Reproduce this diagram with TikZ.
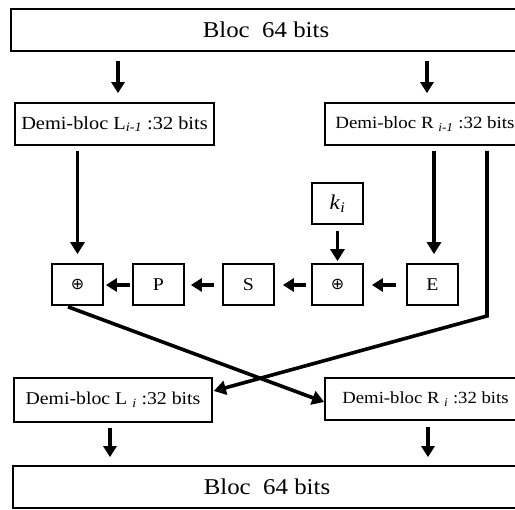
\documentclass[tikz,border=0pt]{standalone}
\usepackage{fontspec}
\setmainfont{Liberation Serif}[FakeStretch=1.1]
\newfontfamily\symfont{DejaVu Sans}
\usetikzlibrary{arrows.meta,calc}
\begin{document}
\begin{tikzpicture}[x=1pt,y=-1pt,
  boxbase/.style={draw,line width=1.7pt,inner sep=0pt,align=center},
  bigbox/.style={boxbase,minimum height=42pt,font=\fontsize{22.6}{26}\selectfont},
  halfbox/.style={boxbase,minimum height=42pt},
  smallbox/.style={boxbase,minimum width=51pt,minimum height=41pt,font=\fontsize{18}{21}\selectfont},
  xorbox/.style={smallbox,font=\symfont\fontsize{16}{18}\selectfont},
  arr/.style={line width=3.6pt,-{Triangle[width=14pt,length=12pt]}},
  sarr/.style={line width=3.2pt,-{Triangle[width=13pt,length=11pt]}}]
\useasboundingbox (0,0) rectangle (515,510);
\clip (0,0) rectangle (515,510);
\fill[white] (0,0) rectangle (515,510);
% boxes
\node[bigbox,minimum width=510pt] (top) at (266,30) {Bloc\ \ 64 bits};
\node[halfbox,minimum width=199pt,font=\fontsize{18.5}{21}\selectfont] (Lm) at (114.5,124) {Demi-bloc L\textsubscript{\textit{i-1}} :32 bits};
\node[halfbox,minimum width=200pt,font=\fontsize{17.2}{20}\selectfont] (Rm) at (425,124) {Demi-bloc R \textsubscript{\textit{i-1}} :32 bits};
\node[smallbox,font=\fontsize{21}{24}\selectfont] (k) at (337.5,203.5) {\textit{k}\textsubscript{\textit{i}}};
\node[xorbox] (X1) at (77.5,284.5) {⊕};
\node[smallbox] (P) at (158.5,284.5) {P};
\node[smallbox] (S) at (248.5,284.5) {S};
\node[xorbox] (X2) at (337.5,284.5) {⊕};
\node[smallbox] (E) at (432.5,284.5) {E};
\node[halfbox,minimum width=198pt,minimum height=44pt,font=\fontsize{18}{21}\selectfont] (L) at (113,400) {Demi-bloc L \textsubscript{\textit{i}} :32 bits};
\node[halfbox,minimum width=201pt,font=\fontsize{17}{20}\selectfont] (R) at (425.5,399) {Demi-bloc R \textsubscript{\textit{i}} :32 bits};
\node[bigbox,minimum width=508pt] (bot) at (267,487) {Bloc\ \ 64 bits};
% arrows
\draw[sarr] ($(top.south -| Lm.north)+(3.5,9)$) -- ($(Lm.north)+(3.5,-9)$);
\draw[sarr] ($(top.south -| Rm.north)+(2,9)$) -- ($(Rm.north)+(2,-9)$);
\draw[arr] ($(Lm.south -| X1.north)+(0,5)$) -- ($(X1.north)+(0,-9)$);
\draw[arr] ($(Rm.south -| E.north)+(1.5,5)$) -- ($(E.north)+(1.5,-9)$);
\draw[arr] ($(k.south)+(0,6)$) -- ($(X2.north)+(0,-2)$);
\draw[sarr] ($(E.west)+(-10,0.5)$) -- ($(X2.east)+(8,0.5)$);
\draw[sarr] ($(X2.west)+(-5,0.5)$) -- ($(S.east)+(8,0.5)$);
\draw[sarr] ($(S.west)+(-8,0.5)$) -- ($(P.east)+(6,0.5)$);
\draw[sarr] ($(P.west)+(-2,0.5)$) -- ($(X1.east)+(2,0.5)$);
\coordinate (c1) at (487,316);
\draw[arr,line join=miter] ($(Rm.south -| c1)+(0,5)$) -- (c1) -- ($(L.east)+(1,-9)$);
\draw[arr] ($(X1.south)+(-9.5,1)$) -- ($(R.west)+(0,3)$);
\draw[sarr] ($(L.south)+(-3,5)$) -- ($(bot.north -| L.south)+(-3,-8)$);
\draw[sarr] ($(R.south)+(2.5,6)$) -- ($(bot.north -| R.south)+(2.5,-8)$);
\end{tikzpicture}
\end{document}
